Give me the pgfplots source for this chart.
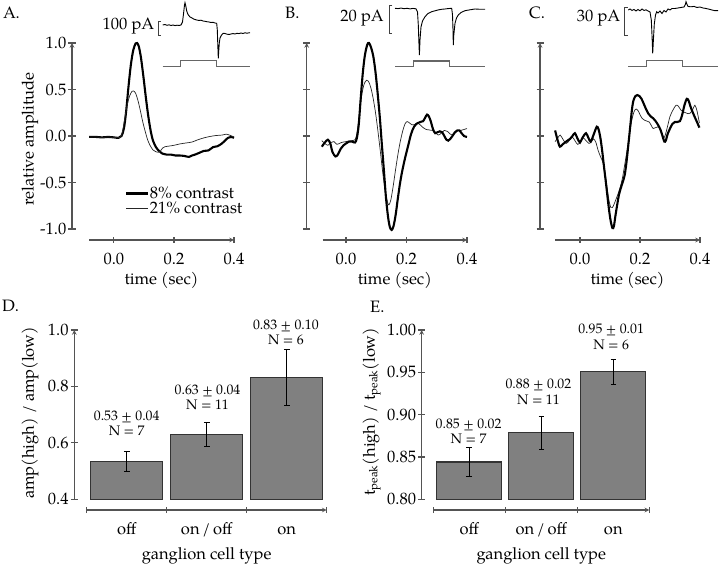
\documentclass[border=0pt]{standalone}
\usepackage{fontspec}
\setmainfont{TeX Gyre Pagella}
\usepackage{pgfplots}
\pgfplotsset{compat=1.18}
\newcommand\fs{\fontsize{16.5}{19}\selectfont}
\newcommand\fsa{\fontsize{13.8}{15.2}\selectfont}
\definecolor{axgray}{gray}{0.33}
\definecolor{bargray}{gray}{0.5}
\definecolor{stimgray}{gray}{0.4}
\pgfplotsset{
  ax/.style={scale only axis, anchor=south west, clip=false,
    axis line style={-, draw=axgray, line width=1.1pt},
    tick style={draw=axgray, line width=1.1pt},
    tick align=inside,
    major tick length=7pt,
    tick label style={font=\fs, text=black},
    label style={font=\fs},
    /pgf/number format/assume math mode=true,
  },
  yax/.style={ax, axis x line=none, axis y line=left, xtick=\empty,
    yticklabel style={/pgf/number format/fixed, /pgf/number format/fixed zerofill,
      /pgf/number format/precision=#1, inner sep=2pt}},
  xax/.style={ax, axis y line=none, axis x line=bottom, major tick length=6pt,
    ymin=0, ymax=1, height=20pt, ytick=\empty,
    xticklabel style={/pgf/number format/fixed, /pgf/number format/fixed zerofill,
      /pgf/number format/precision=1, anchor=base, yshift=-21.5pt}},
  thick curve/.style={black, line width=2.1pt, smooth},
  thin curve/.style={black!85, line width=0.7pt, smooth},
  trace/.style={black, line width=0.9pt},
  stim/.style={stimgray, line width=1.1pt},
  bars/.style={ybar, bar width=0.9, fill=bargray, draw=black!80, line width=1.1pt,
    error bars/.cd, y dir=both, y explicit,
    error bar style={black, line width=1.1pt},
    error mark options={rotate=90, mark size=2.8pt, line width=1.1pt, black}},
}
\begin{document}
\begin{tikzpicture}[x=1pt,y=1pt]
\path[use as bounding box] (0,0) rectangle (720,565);

% ---------------- insets (pixel units) ----------------
\begin{axis}[hide axis, scale only axis, anchor=south west, at={(150pt,495pt)},
  width=570pt, height=70pt, xmin=150, xmax=720, ymin=0, ymax=70, y dir=reverse, clip=false]
% A
\addplot[trace] coordinates {(162.7,25)(165,24.5)(167,25.3)(169,24.8)(171,25.5)(173,25)(175,25.6)(177,25.2)(179,25.5)(181,25)(182.5,22)(183.5,14)(184.5,5)(185,2.7)(185.8,6)(186.7,11)(188,14.5)(190,17)(192,18)(194,19.2)(196.7,20)(199,20.5)(201,20.2)(203,21)(205,21.3)(206.7,21.7)(209,22)(211,22.5)(213,22.3)(215,23)(216.7,23.3)(217.3,30)(217.8,45)(218.3,58.3)(218.8,50)(219.3,43)(220,38)(221,36)(222,34.5)(223.3,33.3)(225,33.5)(227,34.2)(229,34.5)(231,34)(233,33.6)(235,34)(237,33.3)(239,33.6)(241,33)(243,33.5)(245,32.8)(247,33.2)(250,32.7)};
\addplot[stim] coordinates {(162.7,66.7)(180.7,66.7)(180.7,60.7)(216.7,60.7)(216.7,66.7)(250,66.7)};
\addplot[black!75, line width=0.9pt] coordinates {(161,21.5)(158,21.5)(158,35.5)(161,35.5)};
\node[anchor=east, font=\fs, inner sep=0pt] at (axis cs:154.5,26) {100 pA};
% B
\addplot[trace] coordinates {(395,8.3)(398,8.6)(401,8.1)(404,8.7)(407,8.3)(410,8.9)(413,8.4)(416,8.8)(417.5,12)(418.3,25)(419,45)(419.4,55)(420,40)(421,27)(422.5,21)(425,16.7)(428,13.5)(431.7,11.7)(435,10.8)(438,10)(441.7,9.3)(445,9)(448,8.6)(451.7,8.3)(452.5,15)(453,30)(453.3,45)(453.8,35)(455,23.3)(456.5,18)(458.3,15)(461,12.5)(465,10.7)(470,9.8)(475,9)(480,9.3)(485,9.3)};
\addplot[stim] coordinates {(395,66.7)(413.3,66.7)(413.3,61)(449.3,61)(449.3,66.7)(485,66.7)};
\addplot[black!75, line width=0.9pt] coordinates {(392.3,5)(389,5)(389,33.3)(392.3,33.3)};
\node[anchor=east, font=\fs, inner sep=0pt] at (axis cs:384,18.5) {20 pA};
% C
\addplot[trace] coordinates {(628.3,10)(630,9)(632,10.5)(634,9.5)(636,11)(638,9.5)(640,10.8)(642,9)(644,10.5)(646,9.8)(648,11)(650,12)(651.3,20)(652,35)(652.7,53.3)(653.5,38)(654.3,24)(655.5,15)(656.7,11.7)(658,13)(660,11)(662,13.5)(664,10.5)(666,12)(668,9)(670,10)(672,8.5)(675,8.5)(678,8)(681,7.5)(684,7)(685.5,4)(686,1.7)(687,4.5)(688,6.5)(691,6.8)(694,6.4)(697,7.5)(700,7)(703,8)(706,8.5)(709,9.2)(712,10)(715,10.7)(718,10.7)};
\addplot[stim] coordinates {(628.3,66.7)(646.7,66.7)(646.7,60.7)(682.7,60.7)(682.7,66.7)(718.3,66.7)};
\addplot[black!75, line width=0.9pt] coordinates {(627.5,7)(624.3,7)(624.3,35)(627.5,35)};
\node[anchor=east, font=\fs, inner sep=0pt] at (axis cs:620.5,18) {30 pA};
\end{axis}

% ---------------- Panel A ----------------
\begin{axis}[yax=1, at={(72pt,336pt)}, width=162pt, height=186pt,
  xmin=-0.14, xmax=0.4, ymin=-1, ymax=1, ytick={-1,-0.5,0,0.5,1},
  ylabel={relative amplitude},
  ylabel style={at={(axis description cs:-0.259,0.484)}, anchor=center},
  legend cell align=left,
  legend image code/.code={\draw[#1] (0pt,0pt) -- (22pt,0pt);},
  legend style={draw=none, fill=none, at={(axis description cs:0.327,0.15)}, anchor=west,
    inner sep=0pt, font=\fs, row sep=1pt, nodes={inner sep=0.5pt}}]
\addplot[thick curve] coordinates {(-0.083,-0.01)(-0.06,-0.01)(-0.04,-0.015)(-0.02,-0.01)(0.0,-0.015)(0.015,-0.02)(0.025,0.0)(0.033,0.08)(0.040,0.25)(0.048,0.52)(0.056,0.76)(0.064,0.92)(0.072,0.995)(0.077,1.0)(0.083,0.96)(0.090,0.84)(0.098,0.64)(0.106,0.42)(0.114,0.22)(0.122,0.06)(0.130,-0.05)(0.140,-0.12)(0.150,-0.16)(0.162,-0.19)(0.175,-0.20)(0.19,-0.20)(0.205,-0.21)(0.22,-0.21)(0.235,-0.215)(0.25,-0.225)(0.26,-0.21)(0.27,-0.20)(0.285,-0.18)(0.30,-0.16)(0.315,-0.155)(0.33,-0.12)(0.345,-0.11)(0.36,-0.08)(0.37,-0.05)(0.38,-0.02)(0.39,-0.01)(0.40,-0.02)};
\addlegendentry{8\% contrast}
\addplot[thin curve] coordinates {(-0.083,-0.01)(-0.06,-0.01)(-0.04,-0.015)(-0.02,-0.01)(0.0,-0.015)(0.02,-0.015)(0.027,0.03)(0.035,0.17)(0.043,0.32)(0.052,0.43)(0.060,0.48)(0.065,0.485)(0.072,0.46)(0.080,0.38)(0.088,0.27)(0.096,0.15)(0.104,0.05)(0.112,-0.04)(0.12,-0.10)(0.13,-0.15)(0.14,-0.17)(0.148,-0.175)(0.155,-0.16)(0.162,-0.13)(0.17,-0.115)(0.18,-0.11)(0.20,-0.10)(0.22,-0.085)(0.24,-0.075)(0.26,-0.065)(0.28,-0.04)(0.30,-0.02)(0.32,-0.005)(0.34,0.005)(0.36,0.01)(0.375,0.02)(0.385,0.01)(0.40,-0.01)};
\addlegendentry{21\% contrast}
\end{axis}
\begin{axis}[xax, at={(89pt,325pt)}, width=145pt, xmin=-0.083, xmax=0.4, xtick={0,0.2,0.4},
  xlabel={time (sec)}, xlabel style={at={(axis description cs:0.5,0)}, anchor=base, yshift=-45pt}]
\end{axis}

% ---------------- Panel B ----------------
\begin{axis}[yax=1, at={(306.7pt,336pt)}, width=160.3pt, height=186pt,
  xmin=-0.13, xmax=0.4, ymin=-1, ymax=1, ytick={-1,-0.5,0,0.5,1}, yticklabels={}]
\addplot[thin curve] coordinates {(-0.08,-0.05)(-0.07,-0.08)(-0.06,-0.1)(-0.05,-0.07)(-0.04,-0.06)(-0.03,-0.09)(-0.015,-0.07)(0.0,-0.06)(0.015,-0.05)(0.03,-0.04)(0.037,0.05)(0.045,0.26)(0.052,0.44)(0.06,0.56)(0.068,0.60)(0.074,0.59)(0.082,0.52)(0.09,0.40)(0.098,0.24)(0.106,0.04)(0.114,-0.18)(0.122,-0.41)(0.130,-0.60)(0.138,-0.72)(0.142,-0.74)(0.148,-0.69)(0.155,-0.56)(0.163,-0.38)(0.172,-0.19)(0.18,-0.05)(0.188,0.06)(0.195,0.13)(0.202,0.155)(0.21,0.14)(0.218,0.12)(0.226,0.12)(0.235,0.14)(0.245,0.12)(0.255,0.09)(0.265,0.07)(0.275,0.065)(0.285,0.06)(0.295,0.04)(0.305,0.01)(0.315,0.03)(0.325,0.06)(0.335,0.05)(0.345,0.02)(0.352,0.01)(0.36,0.03)(0.37,0.06)(0.38,0.06)(0.39,0.07)(0.40,0.08)};
\addplot[thick curve] coordinates {(-0.08,-0.115)(-0.07,-0.07)(-0.06,-0.04)(-0.052,-0.08)(-0.045,-0.17)(-0.035,-0.22)(-0.027,-0.2)(-0.018,-0.14)(-0.008,-0.1)(0.0,-0.08)(0.01,-0.06)(0.02,-0.06)(0.03,-0.07)(0.036,-0.02)(0.042,0.12)(0.048,0.38)(0.055,0.66)(0.062,0.86)(0.070,0.98)(0.076,1.0)(0.083,0.95)(0.090,0.86)(0.097,0.70)(0.104,0.48)(0.112,0.19)(0.118,-0.07)(0.125,-0.36)(0.132,-0.66)(0.139,-0.87)(0.145,-0.98)(0.151,-1.01)(0.157,-0.97)(0.164,-0.85)(0.171,-0.68)(0.178,-0.52)(0.185,-0.39)(0.195,-0.24)(0.205,-0.11)(0.215,0.02)(0.225,0.10)(0.235,0.135)(0.245,0.15)(0.255,0.16)(0.262,0.20)(0.268,0.23)(0.274,0.21)(0.28,0.16)(0.288,0.07)(0.295,0.03)(0.302,0.04)(0.31,0.05)(0.318,0.04)(0.325,0.0)(0.332,-0.04)(0.338,-0.05)(0.345,-0.03)(0.352,0.0)(0.36,0.04)(0.368,0.06)(0.375,0.06)(0.382,0.03)(0.39,0.0)(0.40,-0.01)};
\end{axis}
\begin{axis}[xax, at={(322.7pt,325pt)}, width=144.3pt, xmin=-0.077, xmax=0.4, xtick={0,0.2,0.4},
  xlabel={time (sec)}, xlabel style={at={(axis description cs:0.5,0)}, anchor=base, yshift=-45pt}]
\end{axis}

% ---------------- Panel C ----------------
\begin{axis}[yax=1, at={(540pt,336pt)}, width=160pt, height=186pt,
  xmin=-0.1333, xmax=0.4, ymin=-1, ymax=1, ytick={-1,-0.5,0,0.5,1}, yticklabels={}]
\addplot[thin curve] coordinates {(-0.083,-0.06)(-0.074,-0.02)(-0.066,0.01)(-0.056,-0.04)(-0.046,-0.08)(-0.036,-0.05)(-0.026,-0.01)(-0.017,-0.05)(-0.008,-0.09)(0.0,-0.07)(0.01,-0.02)(0.02,-0.05)(0.03,-0.08)(0.038,-0.06)(0.045,-0.03)(0.053,-0.07)(0.06,-0.15)(0.068,-0.22)(0.075,-0.27)(0.083,-0.38)(0.09,-0.55)(0.097,-0.70)(0.103,-0.77)(0.108,-0.77)(0.114,-0.73)(0.12,-0.68)(0.127,-0.62)(0.134,-0.55)(0.141,-0.46)(0.148,-0.33)(0.156,-0.17)(0.164,0.0)(0.172,0.16)(0.18,0.26)(0.187,0.29)(0.194,0.27)(0.2,0.23)(0.207,0.19)(0.215,0.17)(0.223,0.16)(0.231,0.15)(0.238,0.11)(0.244,0.08)(0.252,0.09)(0.261,0.10)(0.268,0.07)(0.274,0.02)(0.28,-0.02)(0.286,0.03)(0.293,0.12)(0.30,0.21)(0.31,0.28)(0.32,0.33)(0.328,0.32)(0.336,0.28)(0.344,0.26)(0.352,0.25)(0.36,0.24)(0.367,0.245)(0.375,0.28)(0.383,0.33)(0.39,0.27)(0.398,0.14)};
\addplot[thick curve] coordinates {(-0.083,0.06)(-0.075,-0.04)(-0.067,-0.115)(-0.058,-0.09)(-0.05,-0.07)(-0.042,-0.05)(-0.033,-0.03)(-0.025,0.0)(-0.017,0.03)(-0.008,-0.03)(0.0,-0.07)(0.008,-0.02)(0.02,0.03)(0.028,-0.02)(0.036,-0.06)(0.046,0.02)(0.056,0.10)(0.062,0.07)(0.068,-0.02)(0.074,-0.16)(0.080,-0.33)(0.087,-0.52)(0.094,-0.72)(0.101,-0.89)(0.108,-0.99)(0.113,-0.97)(0.118,-0.86)(0.124,-0.74)(0.130,-0.63)(0.137,-0.55)(0.143,-0.49)(0.149,-0.42)(0.155,-0.28)(0.161,-0.10)(0.167,0.09)(0.173,0.28)(0.178,0.38)(0.185,0.43)(0.191,0.44)(0.198,0.43)(0.205,0.40)(0.212,0.35)(0.22,0.29)(0.228,0.24)(0.236,0.21)(0.244,0.19)(0.252,0.16)(0.26,0.12)(0.268,0.07)(0.275,0.0)(0.281,-0.06)(0.286,-0.05)(0.292,0.02)(0.30,0.08)(0.308,0.13)(0.316,0.15)(0.324,0.15)(0.333,0.16)(0.34,0.22)(0.348,0.33)(0.356,0.40)(0.362,0.38)(0.368,0.32)(0.375,0.26)(0.383,0.2)(0.39,0.15)(0.398,0.09)};
\end{axis}
\begin{axis}[xax, at={(555pt,325pt)}, width=145pt, xmin=-0.0833, xmax=0.4, xtick={0,0.2,0.4},
  xlabel={time (sec)}, xlabel style={at={(axis description cs:0.5,0)}, anchor=base, yshift=-45pt}]
\end{axis}

% ---------------- Panel D ----------------
\begin{axis}[yax=1, at={(74.3pt,65.7pt)}, width=252.4pt, height=169.3pt,
  xmin=-0.155, xmax=3, ymin=0.4, ymax=1.0, ytick={0.4,0.6,0.8,1.0},
  clip=true, clip mode=individual,
  ylabel={amp(high) / amp(low)},
  ylabel style={at={(axis description cs:-0.1755,0.51)}, anchor=center}]
\addplot[bars] coordinates {(0.5,0.533) +- (0,0.035) (1.5,0.629) +- (0,0.043) (2.5,0.832) +- (0,0.10)};
\node[font=\fsa, align=center] at (axis cs:0.5,0.670) {0.53 ± 0.04\\N = 7};
\node[font=\fsa, align=center] at (axis cs:1.51,0.7625) {0.63 ± 0.04\\N = 11};
\node[font=\fsa, align=center] at (axis cs:2.49,0.9926) {0.83 ± 0.10\\N = 6};
\end{axis}
\begin{axis}[xax, at={(86.7pt,55pt)}, width=240pt, xmin=0, xmax=3,
  xtick={0,1,2,3}, xticklabels={},
  extra x ticks={0.5,1.5,2.5}, extra x tick labels={off,on\,/\,off,on},
  extra x tick style={tick style={draw=none}},
  xlabel={ganglion cell type}, xlabel style={at={(axis description cs:0.5,0)}, anchor=base, yshift=-49pt}]
\end{axis}

% ---------------- Panel E ----------------
\begin{axis}[yax=2, at={(421.7pt,65.7pt)}, width=227.6pt, height=169.3pt,
  xmin=-0.161, xmax=3, ymin=0.8, ymax=1.0, ytick={0.8,0.85,0.9,0.95,1.0},
  clip=true, clip mode=individual,
  ylabel={t\textsubscript{peak}(high) / t\textsubscript{peak}(low)},
  ylabel style={at={(axis description cs:-0.22,0.517)}, anchor=center}]
\addplot[bars] coordinates {(0.5,0.8441) +- (0,0.017) (1.5,0.8785) +- (0,0.0197) (2.5,0.9507) +- (0,0.0146)};
\node[font=\fsa, align=center] at (axis cs:0.49,0.8807) {0.85 ± 0.02\\N = 7};
\node[font=\fsa, align=center] at (axis cs:1.46,0.9268) {0.88 ± 0.02\\N = 11};
\node[font=\fsa, align=center] at (axis cs:2.47,0.9918) {0.95 ± 0.01\\N = 6};
\end{axis}
\begin{axis}[xax, at={(433.3pt,55pt)}, width=216pt, xmin=0, xmax=3,
  xtick={0,1,2,3}, xticklabels={},
  extra x ticks={0.5,1.5,2.5}, extra x tick labels={off,on\,/\,off,on},
  extra x tick style={tick style={draw=none}},
  xlabel={ganglion cell type}, xlabel style={at={(axis description cs:0.5,0)}, anchor=base, yshift=-49pt}]
\end{axis}

% ---------------- panel letters ----------------
\node[anchor=west, font=\fs, inner sep=0pt] at (3,552) {A.};
\node[anchor=west, font=\fs, inner sep=0pt] at (285,552) {B.};
\node[anchor=west, font=\fs, inner sep=0pt] at (529,552) {C.};
\node[anchor=west, font=\fs, inner sep=0pt] at (2,259) {D.};
\node[anchor=west, font=\fs, inner sep=0pt] at (370,258) {E.};
\end{tikzpicture}
\end{document}
